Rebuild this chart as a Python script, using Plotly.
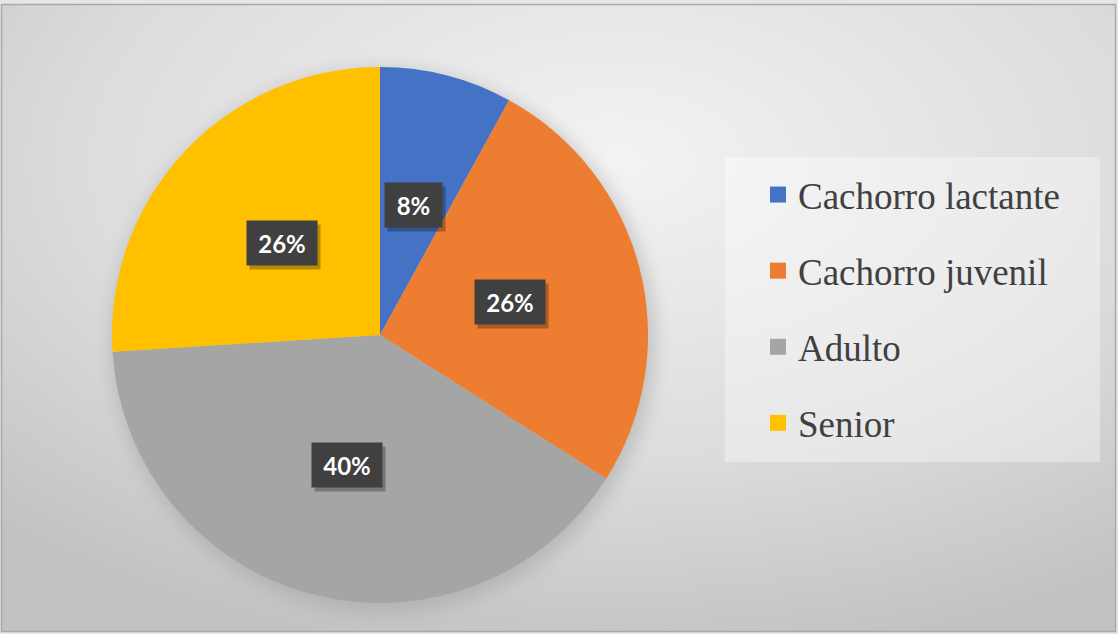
import base64
import math

import plotly.graph_objects as go

# Data
labels = ["Cachorro lactante", "Cachorro juvenil", "Adulto", "Senior"]
values = [4, 13, 20, 13]
colors = ["#4472C4", "#ED7D31", "#A5A5A5", "#FFC000"]

W, H = 1118, 634
# pie geometry (pixels)
CX, CY, R = 380, 335, 268
LEG = dict(x0=725, y0=157, x1=1100, y1=462)

dom_x = [(CX - R) / W, (CX + R) / W]
dom_y = [(H - CY - R) / H, (H - CY + R) / H]

# background: soft radial grey, framed, with a faint glow under the pie
svg = f"""<svg xmlns='http://www.w3.org/2000/svg' width='{W}' height='{H}' viewBox='0 0 {W} {H}' preserveAspectRatio='none'>
<defs>
<radialGradient id='g' cx='0.55' cy='0.25' r='0.8'>
<stop offset='0' stop-color='#f3f3f3'/><stop offset='0.6' stop-color='#dcdcdc'/><stop offset='1' stop-color='#c2c2c2'/>
</radialGradient>
<filter id='b' x='-20%' y='-20%' width='140%' height='140%'><feGaussianBlur stdDeviation='9'/></filter>
</defs>
<rect x='0' y='0' width='{W}' height='{H}' fill='#e6e6e6'/>
<rect x='1.5' y='4.5' width='{W - 4}' height='{H - 7}' fill='url(#g)' stroke='#a9a9a9' stroke-width='1.5'/>
<ellipse cx='{CX + 3}' cy='{CY + 6}' rx='{R + 4}' ry='{R + 4}' fill='#9a9a9a' opacity='0.45' filter='url(#b)'/>
<rect x='{LEG["x0"]}' y='{LEG["y0"]}' width='{LEG["x1"] - LEG["x0"]}' height='{LEG["y1"] - LEG["y0"]}' fill='#ffffff' opacity='0.35'/>
</svg>"""
bg_uri = "data:image/svg+xml;base64," + base64.b64encode(svg.encode()).decode()

fig = go.Figure()
fig.add_trace(go.Pie(
    labels=labels,
    values=values,
    marker=dict(colors=colors, line=dict(width=0)),
    sort=False,
    direction="clockwise",
    rotation=0,
    textinfo="none",
    hoverinfo="label+percent",
    showlegend=False,
    domain=dict(x=dom_x, y=dom_y),
))

# legend entries (one group each so the spacing can be opened up)
for lab, col in zip(labels, colors):
    fig.add_trace(go.Scatter(
        x=[None], y=[None], mode="markers", name=lab, legendgroup=lab,
        marker=dict(symbol="square", size=18, color=col),
    ))

# percentage labels in dark boxes, half-way out along each slice's mid angle
total = sum(values)
cum = 0
for v in values:
    mid = (cum + v / 2) / total * 2 * math.pi
    cum += v
    px = CX + 0.5 * R * math.sin(mid)
    py = CY - 0.5 * R * math.cos(mid)
    txt = f"{round(v / total * 100)}%"
    w = 23 + 13 * len(txt)
    common = dict(x=px / W, y=1 - py / H, xref="paper", yref="paper", showarrow=False,
                  xanchor="center", yanchor="middle", width=w, height=36, borderpad=4)
    # drop shadow box
    fig.add_annotation(text=" ", bgcolor="rgba(0,0,0,0.28)", xshift=3, yshift=-4,
                       font=dict(size=24, family="Lato"), **common)
    fig.add_annotation(text=f"<b>{txt}</b>", bgcolor="#404040",
                       font=dict(color="white", size=24, family="Lato"), **common)

fig.update_layout(
    width=W, height=H,
    margin=dict(l=0, r=0, t=0, b=0),
    paper_bgcolor="#e6e6e6",
    plot_bgcolor="rgba(0,0,0,0)",
    xaxis=dict(visible=False),
    yaxis=dict(visible=False),
    images=[dict(source=bg_uri, xref="paper", yref="paper", x=0, y=1, sizex=1, sizey=1,
                 sizing="stretch", xanchor="left", yanchor="top", layer="below")],
    legend=dict(
        x=758 / W, y=1 - 164 / H, xanchor="left", yanchor="top",
        bgcolor="rgba(0,0,0,0)",
        font=dict(family="Liberation Serif", size=37, color="#404040"),
        tracegroupgap=25,
        itemclick=False, itemdoubleclick=False,
    ),
    showlegend=True,
)

# drop the browser's default page margin so the figure sits flush in the window
fig.write_html("out.html", config={"displayModeBar": False},
               post_script="document.body.style.margin='0';")
